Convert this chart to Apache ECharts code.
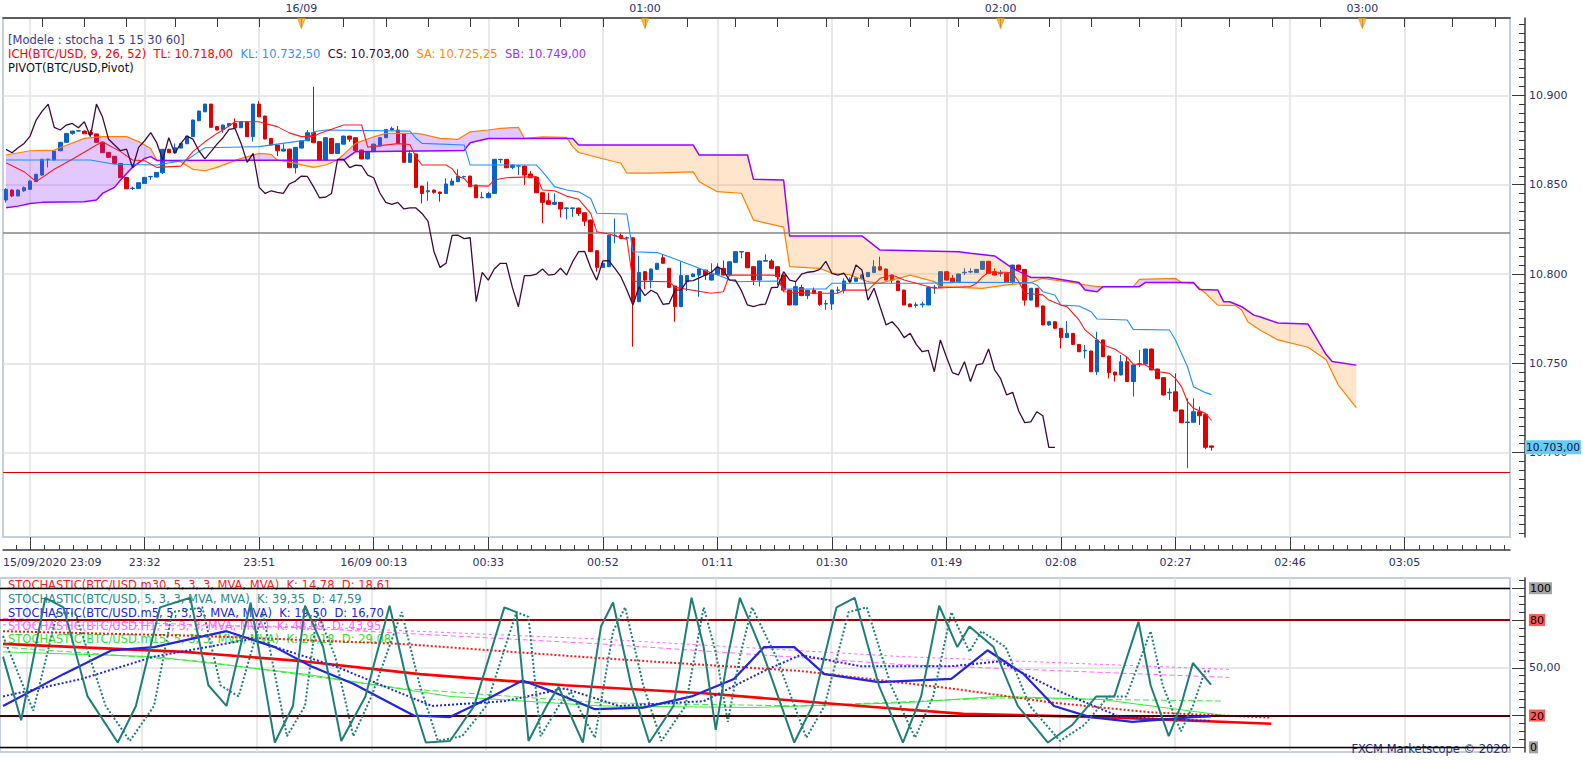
<!DOCTYPE html>
<html><head><meta charset="utf-8">
<script src="https://cdn.jsdelivr.net/npm/echarts@6/dist/echarts.min.js"></script>
<style>html,body{margin:0;padding:0;background:#fff}#c{width:1583px;height:760px}</style>
</head><body><div id="c"></div>
<script>
// ---------------- DATA ----------------
const NBARS = 250;
const categories = Array.from({length: NBARS}, (_, k) => String(k));
const bottomLabelIdx = [4,23,42,61,80,99,118,137,156,175,194,213,232];
const bottomLabels = ['15/09/2020 23:09','23:32','23:51','16/09 00:13','00:33','00:52','01:11','01:30','01:49','02:08','02:27','02:46','03:05'];
const BAR_STEP = 19;
const topLabelIdx = [49,106,165,225];
const topLabels = ['16/09','01:00','02:00','03:00'];
const topTickIdx = [6,13,20,28,35,42,49,56,63,70,77,85,92,99,106,113,121,128,136,143,150,158,165,173,180,188,195,203,210,218,225,232,240,247];
const priceTicks = [10700,10750,10800,10850,10900];
const stochTicks = [0,20,50,80,100];

const open = [
10841.4,10847.0,10843.7,10846.6,10847.4,10851.7,10855.4,10864.0,10863.8,10869.0,
10873.7,10878.7,10880.0,10880.0,10879.3,10878.4,10873.7,10868.1,10865.9,10861.9,
10854.1,10847.9,10847.9,10850.7,10854.4,10854.3,10856.7,10869.8,10867.9,10870.5,
10872.9,10876.9,10885.8,10890.8,10895.1,10882.5,10880.9,10883.0,10884.3,10881.9,
10885.2,10876.9,10895.1,10888.4,10875.9,10872.2,10868.8,10869.9,10859.5,10870.5,
10874.6,10879.1,10874.1,10863.8,10875.9,10867.5,10872.7,10877.2,10876.3,10869.4,
10864.4,10868.5,10871.6,10876.3,10880.6,10880.6,10878.7,10862.5,10867.2,10849.2,
10846.0,10847.0,10845.9,10845.1,10849.8,10851.7,10854.4,10854.8,10849.8,10842.7,
10842.7,10845.1,10864.0,10864.2,10859.7,10860.4,10860.4,10856.0,10854.1,10845.5,
10841.0,10839.0,10840.1,10836.7,10836.7,10836.9,10834.3,10830.2,10813.0,10803.7,
10804.1,10821.4,10821.6,10820.1,10820.3,10784.5,10801.3,10796.6,10802.6,10809.1,
10803.2,10793.3,10781.7,10795.7,10798.5,10799.4,10802.2,10796.6,10799.8,10803.2,
10799.4,10806.5,10812.3,10812.1,10804.1,10796.6,10807.2,10807.3,10804.1,10799.4,
10791.0,10782.7,10792.4,10787.9,10790.9,10790.1,10783.2,10783.2,10790.8,10790.9,
10796.0,10795.9,10797.6,10798.5,10800.9,10804.1,10802.8,10799.4,10796.1,10791.0,
10783.2,10782.4,10782.8,10782.7,10792.3,10792.4,10801.3,10797.6,10795.7,10800.7,
10801.1,10800.8,10802.6,10807.1,10801.3,10800.2,10800.4,10795.3,10805.0,10802.6,
10785.4,10792.0,10782.1,10771.5,10773.3,10769.6,10764.4,10766.8,10760.6,10757.0,
10756.9,10745.3,10763.1,10754.1,10745.1,10743.5,10750.9,10739.8,10749.5,10749.6,
10758.0,10746.8,10742.0,10733.5,10734.1,10723.9,10716.9,10717.0,10722.9,10721.4,
10703.8];
const close = [
10847.4,10843.7,10847.0,10848.3,10852.0,10855.8,10864.2,10864.3,10868.8,10873.7,
10878.7,10880.0,10880.2,10878.5,10878.2,10873.7,10867.9,10865.3,10861.9,10853.9,
10847.7,10848.1,10851.1,10854.1,10854.6,10856.9,10869.8,10867.9,10870.7,10873.1,
10877.2,10886.2,10891.2,10895.1,10882.1,10880.6,10883.4,10884.3,10881.9,10885.2,
10876.9,10895.1,10888.0,10875.6,10872.2,10869.0,10869.9,10859.5,10870.9,10874.6,
10879.1,10873.5,10863.8,10876.3,10867.5,10873.1,10877.2,10875.5,10869.0,10864.4,
10868.5,10872.7,10876.3,10880.9,10881.5,10873.1,10862.5,10867.5,10848.5,10845.1,
10846.6,10845.7,10845.1,10850.4,10852.0,10854.8,10854.6,10848.9,10842.7,10843.0,
10845.1,10864.2,10864.2,10859.5,10861.0,10860.6,10855.4,10853.9,10845.5,10840.1,
10839.0,10840.1,10836.4,10837.0,10837.0,10833.9,10829.6,10812.5,10803.7,10806.0,
10821.6,10821.7,10819.8,10820.3,10784.5,10800.9,10796.6,10802.8,10806.0,10806.0,
10792.5,10781.7,10799.1,10799.1,10800.0,10802.8,10799.4,10799.8,10803.2,10799.4,
10806.9,10812.5,10812.6,10803.5,10796.6,10807.3,10807.5,10803.2,10798.5,10791.0,
10782.7,10792.9,10787.9,10790.9,10789.2,10783.0,10783.5,10791.0,10791.1,10796.1,
10796.3,10797.8,10799.4,10800.9,10804.1,10802.2,10796.6,10796.6,10790.7,10782.7,
10781.7,10782.8,10783.2,10792.4,10792.6,10801.3,10796.6,10795.7,10800.0,10801.0,
10801.4,10802.6,10807.1,10800.4,10799.4,10800.5,10795.3,10805.0,10802.2,10785.4,
10792.0,10781.7,10771.5,10773.3,10769.6,10764.4,10766.8,10760.6,10756.5,10757.3,
10745.3,10763.1,10753.7,10744.8,10743.5,10750.9,10739.8,10749.1,10749.8,10758.0,
10746.3,10741.4,10732.3,10733.8,10723.3,10716.8,10717.2,10722.9,10720.7,10703.0,
10703.0];
const low = [
10840,10843,10843.5,10846,10847,10851.5,10855,10859.7,10863.5,10868.8,
10873.5,10878,10879.8,10878.3,10878,10873.5,10867.7,10865,10861.7,10853.7,
10847.5,10847.0,10847.7,10850.5,10852.6,10854.1,10856,10867.7,10867.7,10870.3,
10872.7,10876.7,10885.6,10890.6,10881.9,10880.4,10879.1,10882.8,10881.7,10881.7,
10876.7,10874.1,10887.8,10875.4,10872,10866.0,10868.6,10859.3,10856.3,10870.3,
10874.4,10873.3,10863.6,10863.6,10867.3,10867.3,10872.5,10874,10868.8,10864.2,
10864.2,10868.3,10871.4,10876.1,10880.4,10872.9,10862.3,10862.3,10848.3,10839.5,
10841.0,10845.0,10840.5,10844.9,10849.6,10851.5,10853.8,10848.7,10842.5,10842.5,
10842.5,10844.9,10862.0,10859.3,10858.6,10855.4,10849.8,10853.7,10845.3,10828.4,
10838.8,10838.8,10831.7,10830.6,10832.0,10832.5,10826.9,10812.3,10801.3,10803.5,
10803.9,10817.2,10819.6,10819.5,10759.3,10784.3,10791.6,10792.0,10802.4,10805.8,
10792.3,10773.3,10781.5,10790.5,10798.3,10787.3,10796.6,10796.4,10799.6,10799.2,
10799.2,10806.3,10808.8,10803.3,10793.8,10793.0,10807.0,10803.0,10793.8,10790.8,
10782.5,10782.5,10787.7,10786.0,10789.0,10782.2,10779.9,10779.9,10789.2,10789.2,
10795.3,10795.7,10797.4,10798.3,10800.7,10802.0,10796.4,10794.8,10790.5,10782.5,
10781.5,10781.2,10781.2,10782.5,10789.0,10792.2,10796.4,10795.5,10795.5,10799.4,
10800.4,10800.6,10802.4,10800.2,10799.2,10798.5,10795.1,10793.8,10802.0,10782.3,
10785.2,10781.5,10771.3,10771.0,10769.4,10758.4,10764.2,10760.4,10756.3,10752.8,
10745.1,10743.5,10753.5,10741.6,10739.8,10743.3,10739.6,10731.4,10748.0,10749.4,
10746.1,10741.2,10732.1,10729.5,10723.1,10716.6,10691.3,10716.8,10715.5,10702.0,
10701.1];
const high = [
10848,10847.5,10847.5,10849,10852.5,10856,10864.5,10864.5,10869,10874,
10879,10880.2,10880.4,10880.3,10880.6,10878.6,10874,10868.3,10866,10862,
10854.3,10848.9,10851.3,10854.3,10855.0,10857.1,10870,10870,10873.1,10873.3,
10877.4,10886.4,10891.4,10895.3,10895.3,10882.7,10883.6,10884.5,10887.1,10885.4,
10885.4,10895.3,10896.8,10888.6,10876.1,10872.4,10872.7,10870.1,10871.1,10874.8,
10880.6,10904.8,10874.3,10876.5,10876.1,10873.3,10877.4,10877.4,10876.5,10869.6,
10868.7,10872.9,10876.5,10881.1,10882.5,10882.8,10878.9,10869.4,10867.4,10849.4,
10851.7,10847.3,10846.1,10853.5,10853.5,10858.6,10855.0,10855.0,10850.0,10846.0,
10846.0,10864.4,10864.5,10864.4,10861.2,10860.8,10860.6,10857.6,10854.3,10845.7,
10845.5,10845.1,10840.3,10837.2,10837.2,10837.1,10834.5,10830.4,10813.2,10806.2,
10822.0,10831.1,10823.1,10821.0,10820.5,10810.3,10801.5,10803.0,10806.2,10811.0,
10803.4,10793.5,10806.9,10799.3,10800.5,10803.0,10802.4,10806.0,10806.0,10807.5,
10807.1,10812.7,10812.8,10812.3,10804.3,10807.5,10811.0,10808.4,10804.3,10799.6,
10791.2,10796.0,10794.0,10791.1,10792.4,10790.3,10785.5,10791.2,10792.9,10797.6,
10798.1,10798.0,10800.0,10801.1,10807.8,10809.7,10803.0,10799.6,10796.3,10791.2,
10783.4,10784.1,10784.5,10792.6,10793.8,10801.5,10801.5,10799.4,10800.2,10803.2,
10803.2,10802.8,10807.3,10807.3,10803.2,10802.2,10800.6,10805.2,10805.2,10802.8,
10792.2,10792.2,10782.3,10773.8,10773.5,10769.8,10773.7,10767.0,10760.8,10760.2,
10757.1,10767.7,10763.3,10754.3,10745.3,10754.7,10753.7,10749.3,10757.5,10758.2,
10758.2,10747.0,10742.2,10736.0,10744.4,10724.1,10730.4,10730.4,10725.8,10721.6,
10704.0];

// Ichimoku lines: [bar index, value]
const tenkan = [[0,10862.3],[3,10857.3],[5,10851.7],[8,10858.6],[11,10864.2],[15,10872.2],[16,10874],[19,10868.5],[21,10863.8],[23,10863.4],[25,10859.7],[29,10860.4],[31,10868.5],[33,10874],[35,10878.7],[36,10880.6],[38,10885.2],[42,10885.2],[43,10884.3],[45,10882.5],[47,10879],[49,10876.9],[51,10876.9],[52,10878.7],[54,10881],[56,10883.4],[59,10883.4],[60,10871],[65,10873],[67,10872.5],[68,10865.5],[69,10861],[73,10861],[74,10859],[75,10854.5],[76,10853.5],[77,10849.5],[80,10849.2],[81,10852.6],[83,10853.9],[88,10854.5],[89,10847],[91,10846.6],[93,10843.6],[95,10841.8],[97,10833.9],[98,10823.7],[100,10822.4],[103,10819.4],[104,10796],[110,10795.7],[111,10792.5],[117,10789.2],[119,10790.1],[120,10799.4],[127,10799.4],[128,10799],[129,10790.1],[134,10789.2],[138,10789.2],[139,10791],[143,10791],[145,10797.6],[147,10799.4],[149,10796.6],[151,10794.8],[154,10792],[160,10793],[161,10794.8],[162,10798.5],[163,10801],[166,10801],[167,10800.4],[168,10795.7],[169,10789.2],[172,10788.3],[173,10785.4],[175,10782.6],[176,10781.7],[178,10774.3],[179,10768.7],[181,10763.1],[182,10760.3],[184,10757.9],[185,10755.6],[186,10753.4],[187,10749.6],[189,10749.1],[190,10747.2],[191,10745.4],[193,10744.4],[194,10741.6],[195,10737],[196,10728.6],[197,10724.8],[199,10722],[200,10718]];
const kijun = [[0,10863.8],[14,10863.8],[18,10861.4],[25,10861],[30,10863.8],[32,10868.5],[33,10870.7],[42,10871.3],[48,10874.1],[50,10875],[51,10879.6],[53,10880.6],[67,10880.0],[68,10876],[69,10873.1],[76,10872.2],[77,10861],[88,10861],[89,10857.3],[91,10848.9],[93,10847],[95,10846],[97,10842.3],[98,10834],[103,10833.6],[104,10812.5],[108,10812],[110,10809.7],[115,10803.2],[118,10799.4],[121,10795.7],[128,10796.1],[129,10791.6],[136,10791.6],[137,10794.8],[152,10794.8],[158,10795.3],[170,10795.2],[171,10793.9],[172,10790.1],[174,10788.3],[175,10782.6],[178,10782.1],[180,10778.9],[181,10774.8],[186,10774.3],[187,10769],[193,10768.7],[194,10763.1],[196,10748.1],[197,10736.9],[199,10733.6],[200,10732.5]];
const senkouA = [[0,10866.6],[4,10869],[8,10869.4],[13,10875.9],[16,10876.9],[20,10876.9],[22,10874.1],[24,10870.3],[25,10863.8],[29,10862.9],[31,10858.6],[33,10857.8],[35,10859.7],[39,10864.7],[42,10867.5],[44,10867],[45,10863.8],[48,10861.9],[51,10859.7],[53,10861],[55,10863.8],[58,10873.1],[61,10876.8],[63,10878.7],[68,10878.7],[69,10878.3],[72,10875.9],[75,10875.4],[77,10879.6],[80,10880.6],[82,10881.5],[85,10882.1],[86,10876],[89,10876.8],[93,10876.5],[94,10871.3],[95,10868],[99,10864.5],[102,10862],[103,10856.5],[107,10856.5],[114,10857.2],[115,10851.7],[118,10846.1],[122,10845.2],[124,10830.2],[129,10826.2],[130,10804.1],[135,10803.2],[137,10800.5],[140,10799.6],[143,10795.7],[145,10794.8],[150,10799.4],[154,10795.7],[155,10792.9],[162,10792],[166,10793.9],[170,10795.2],[172,10797.6],[174,10796.6],[177,10795.2],[179,10793.9],[181,10792.9],[187,10792.9],[188,10797],[194,10797.6],[195,10795.2],[197,10794.8],[199,10789.2],[201,10782.6],[204,10782.3],[205,10779.9],[206,10773.3],[208,10768.7],[211,10763.1],[216,10759],[219,10752],[221,10738],[224,10725.25]];
const senkouB = [[0,10837.1],[2,10838],[4,10839.5],[6,10840.1],[13,10840.5],[15,10841.4],[16,10845.1],[18,10848.5],[19,10852.6],[21,10859.7],[23,10864.7],[24,10865.7],[25,10863.6],[56,10863.8],[58,10868.5],[76,10869.2],[77,10873.5],[80,10875.8],[94,10875.8],[95,10872.2],[114,10872.2],[115,10866.6],[123,10866.6],[124,10853],[129,10852.6],[130,10821.3],[142,10821.3],[145,10813.4],[158,10812.5],[160,10811.6],[164,10810.1],[167,10803.2],[170,10798.1],[173,10798],[178,10795.2],[179,10791.1],[181,10790.1],[182,10792.9],[188,10792.9],[189,10795.2],[197,10795.2],[198,10791.4],[201,10791.1],[202,10784.5],[203,10784.5],[205,10781.7],[207,10777],[208,10776.1],[211,10772.6],[216,10772],[219,10754.9],[220,10751],[224,10749]];
const CHIKOU_SHIFT = 26;
const pivotLevel = 10823;
const supportLevel = 10689;

// Stochastics: [bar index, value]
const stochM30K = [[0,65],[30,60],[50,54],[69,46],[93,39],[116,34],[142,26],[159,21],[182,19],[210,14.78]];
const stochM30D = [[0,73],[33,70],[66,65],[99,56],[132,48],[157,37],[174,28],[190,22],[210,18.61]];
const stochH1K = [[0,77],[50,76],[99,68],[149,57],[203,48.99]];
const stochH1D = [[0,81],[50,75],[99,65],[149,52],[203,43.95]];
const stochM15K = [[0,60],[25,57],[50,46],[74,32],[99,26],[124,25],[149,28],[165,32],[182,30],[202,20.18]];
const stochM15D = [[0,63],[33,54],[66,37],[99,28],[132,26],[165,31],[202,29.08]];
const stochM5K = [[0,26],[10,46],[18,61],[25,63],[37,73],[45,63],[51,51],[58,40],[68,20],[74,19],[81,32],[86,42],[91,35],[98,24],[106,25],[114,32],[121,43],[126,63],[131,63],[136,46],[145,41],[157,43],[163,61],[169,46],[174,26],[180,19],[187,16],[197,19],[200,19.5]];
const stochM5D = [[0,32],[13,43],[25,57],[41,68],[55,51],[71,26],[83,29],[93,37],[102,26],[116,29],[126,48],[132,58],[142,51],[157,51],[165,54],[175,35],[185,19],[197,17],[200,16.7]];
const stochK = [[0,57],[3,17],[7,94],[10,88],[14,32],[19,3],[22,26],[26,88],[31,94],[34,39],[37,26],[41,91],[45,3],[48,26],[50,89],[53,63],[56,4],[60,32],[64,89],[67,39],[70,3],[74,4],[78,26],[83,88],[85,85],[87,4],[90,26],[92,38],[94,20],[96,3],[99,76],[101,91],[104,39],[107,3],[111,26],[114,94],[116,63],[118,11],[120,57],[122,94],[126,57],[131,3],[134,26],[138,88],[141,94],[145,39],[149,3],[152,32],[155,89],[158,63],[160,76],[164,63],[168,26],[173,3],[177,14],[181,32],[184,32],[188,79],[190,39],[193,7],[195,26],[197,53],[200,39.35]];
const stochD = [[0,70],[5,23],[9,85],[12,84],[17,26],[21,4],[25,26],[28,85],[33,88],[36,39],[39,32],[43,85],[47,7],[50,26],[52,85],[55,57],[58,7],[61,32],[66,85],[69,39],[72,4],[76,7],[80,26],[85,85],[87,82],[89,7],[92,26],[94,35],[96,20],[98,6],[101,73],[103,88],[106,39],[109,4],[113,26],[116,88],[118,60],[120,16],[122,57],[124,88],[128,57],[133,6],[136,26],[140,85],[143,88],[147,39],[151,6],[154,32],[157,85],[160,60],[162,73],[166,63],[170,26],[175,4],[179,14],[183,32],[186,32],[190,73],[192,39],[195,10],[197,26],[199,48],[200,47.59]];

// ---------------- CHART ----------------
const PMIN = 10652.8, PMAX = 10943.3;
const SMIN = -2.94, SMAX = 106.44;
const XMIN = -0.5, XMAX = NBARS - 0.5;
const FONT = 'DejaVu Sans';
const AXIS_TXT = '#30306a';
const AXIS_COL = '#3a3a3a';
const CLOUD_UP = 'rgba(153,51,255,0.27)';
const CLOUD_DOWN = 'rgba(255,135,20,0.22)';

const fmtThousands = v => { const s = Math.round(v).toString(); return s.slice(0, -3) + '.' + s.slice(-3); };
const fmtPrice2 = v => { const p = v.toFixed(2).split('.'); return p[0].slice(0, -3) + '.' + p[0].slice(-3) + ',' + p[1]; };

const bottomMinor = [];
for (let m = -1; m < bottomLabelIdx.length; m++) {
  for (let k = 1; k < 8; k++) {
    const v = bottomLabelIdx[0] + BAR_STEP * m + k * BAR_STEP / 8;
    if (v > XMIN && v < XMAX) bottomMinor.push(v);
  }
}
const bottomLabelPos = bottomLabelIdx.map((v, k) => k === 0 ? XMIN : v);
const bottomLabelMap = new Map(bottomLabelPos.map((v, k) => [v, bottomLabels[k]]));
const priceMinor = [];
for (let v = 10655; v < PMAX; v += 5) if (v % 50) priceMinor.push(v);
const stochMinor = [];
for (let v = 5; v < SMAX; v += 5) if (!stochTicks.includes(v)) stochMinor.push(v);
const topLabelMap = new Map(topLabelIdx.map((v, k) => [v, topLabels[k]]));

const lastClose = close[close.length - 1];
const chikou = close.slice(CHIKOU_SHIFT);

function renderCloud(params, api) {
  const A = senkouA.map(p => api.coord(p));
  const B = senkouB.map(p => api.coord(p));
  const at = (P, x) => {
    if (x <= P[0][0]) return P[0][1];
    for (let k = 0; k < P.length - 1; k++) {
      const p0 = P[k], p1 = P[k + 1];
      if (x <= p1[0]) { const dx = p1[0] - p0[0]; return dx ? p0[1] + (x - p0[0]) / dx * (p1[1] - p0[1]) : p1[1]; }
    }
    return P[P.length - 1][1];
  };
  const lo = Math.max(A[0][0], B[0][0]), hi = Math.min(A[A.length - 1][0], B[B.length - 1][0]);
  const xs = [...new Set(A.concat(B).map(p => p[0]))].filter(x => x >= lo && x <= hi).sort((a, b) => a - b);
  const polys = [];
  let cur = null, prev = null;
  const flush = () => {
    if (cur && cur.a.length > 1) polys.push({type: 'polygon', shape: {points: cur.a.concat(cur.b.slice().reverse())}, style: {fill: cur.s < 0 ? CLOUD_UP : CLOUD_DOWN}});
  };
  xs.forEach(x => {
    const ya = at(A, x), yb = at(B, x), d = ya - yb;
    if (prev && prev.d * d < 0) {
      const t = prev.d / (prev.d - d);
      const xm = prev.x + t * (x - prev.x), ym = prev.ya + t * (ya - prev.ya);
      cur.a.push([xm, ym]); cur.b.push([xm, ym]); flush();
      cur = {s: Math.sign(d), a: [[xm, ym]], b: [[xm, ym]]};
    }
    if (!cur) cur = {s: 0, a: [], b: []};
    if (!cur.s && d) cur.s = Math.sign(d);
    cur.a.push([x, ya]); cur.b.push([x, yb]);
    prev = {x, ya, d: d || (prev ? prev.d : 0)};
  });
  flush();
  return {type: 'group', children: polys};
}

const line = (data, color, width, type, xi, yi, z) => ({
  type: 'line', data, xAxisIndex: xi, yAxisIndex: yi, symbol: 'none', showSymbol: false,
  lineStyle: {color, width, type}, z, silent: true, animation: false
});

const chart = echarts.init(document.getElementById('c'), null, {renderer: 'svg'});
const labelBase = {color: AXIS_TXT, fontFamily: FONT, fontSize: 11};
const xValueAxis = (extra) => Object.assign({type: 'value', min: XMIN, max: XMAX, axisLine: {show: false, onZero: false}, axisLabel: {show: false}, splitLine: {show: false}}, extra);

chart.setOption({
  animation: false,
  backgroundColor: '#ffffff',
  grid: [
    {left: -3, right: 73, top: 18, bottom: 223, show: true, borderColor: '#c6cedb', borderWidth: 2, backgroundColor: 'transparent'},
    {left: -3, right: 73, top: 578, bottom: 8, show: true, borderColor: '#c6cedb', borderWidth: 2, backgroundColor: 'transparent'}
  ],
  xAxis: [
    // 0: data axis of the price panel (hidden)
    {type: 'category', gridIndex: 0, data: categories, boundaryGap: true, show: false},
    // 1: top time axis
    xValueAxis({gridIndex: 0, position: 'top',
      axisLine: {show: true, onZero: false, lineStyle: {color: AXIS_COL, width: 1.5}},
      axisTick: {show: true, customValues: topTickIdx, inside: true, length: 9, lineStyle: {color: AXIS_COL}},
      axisLabel: Object.assign({show: true, customValues: topLabelIdx, formatter: v => topLabelMap.get(v) || '', margin: 4}, labelBase)}),
    // 2: bottom time axis (major ticks, labels, vertical grid)
    xValueAxis({gridIndex: 0, position: 'bottom', offset: 13,
      axisLine: {show: true, onZero: false, lineStyle: {color: AXIS_COL, width: 1.5}},
      axisTick: {show: true, customValues: bottomLabelIdx, inside: true, length: 13, lineStyle: {color: AXIS_COL}},
      axisLabel: Object.assign({show: true, customValues: bottomLabelPos, alignMinLabel: 'left', formatter: v => bottomLabelMap.get(v) || '', margin: 7}, labelBase),
      splitLine: {show: true, lineStyle: {color: '#e2e2e2', width: 1.5}}}),
    // 3: bottom minor ticks
    xValueAxis({gridIndex: 0, position: 'bottom', offset: 13,
      axisTick: {show: true, customValues: bottomMinor, inside: true, length: 5, lineStyle: {color: AXIS_COL}}}),
    // 4: data axis of the stochastic panel (hidden)
    {type: 'category', gridIndex: 1, data: categories, boundaryGap: true, show: false},
    // 5: vertical grid of the stochastic panel
    xValueAxis({gridIndex: 1, position: 'bottom',
      axisTick: {show: false, customValues: bottomLabelIdx},
      splitLine: {show: true, lineStyle: {color: '#e2e2e2', width: 1.5}}})
  ],
  yAxis: [
    {type: 'value', gridIndex: 0, position: 'right', offset: 15, min: PMIN, max: PMAX,
     axisLine: {show: true, onZero: false, lineStyle: {color: AXIS_COL, width: 1.5}},
     axisTick: {show: true, customValues: priceTicks, inside: true, length: 13, lineStyle: {color: AXIS_COL}},
     axisLabel: Object.assign({customValues: priceTicks, formatter: fmtThousands, margin: 4}, labelBase),
     splitLine: {show: true, lineStyle: {color: '#e2e2e2', width: 1.5}}},
    {type: 'value', gridIndex: 0, position: 'right', offset: 15, min: PMIN, max: PMAX,
     axisLine: {show: false, onZero: false},
     axisTick: {show: true, customValues: priceMinor, inside: true, length: 6, lineStyle: {color: AXIS_COL}},
     axisLabel: {show: false}, splitLine: {show: false}},
    {type: 'value', gridIndex: 1, position: 'right', offset: 15, min: SMIN, max: SMAX,
     axisLine: {show: true, onZero: false, lineStyle: {color: AXIS_COL, width: 1.5}},
     axisTick: {show: true, customValues: stochTicks, inside: true, length: 13, lineStyle: {color: AXIS_COL}},
     axisLabel: Object.assign({customValues: stochTicks, margin: 4,
       formatter: v => (v === 0 || v === 100) ? `{g|${v}}` : (v === 20 || v === 80) ? `{r|${v}}` : '50,00',
       rich: {g: {backgroundColor: '#a4a4a4', color: '#000', padding: [1, 1, 0, 1], fontFamily: FONT, fontSize: 11},
              r: {backgroundColor: '#ff5a5a', color: '#000', padding: [1, 1, 0, 1], fontFamily: FONT, fontSize: 11}}}, labelBase),
     splitLine: {show: true, lineStyle: {color: '#e2e2e2', width: 1.5}}},
    {type: 'value', gridIndex: 1, position: 'right', offset: 15, min: SMIN, max: SMAX,
     axisLine: {show: false, onZero: false},
     axisTick: {show: true, customValues: stochMinor, inside: true, length: 6, lineStyle: {color: AXIS_COL}},
     axisLabel: {show: false}, splitLine: {show: false}}
  ],
  graphic: [
    {type: 'text', x: 8, y: 40, z: 1, silent: true, style: {text: '[Modele : stocha 1 5 15 30 60]', fill: '#3b3b8f', fontFamily: FONT, fontSize: 11.5, verticalAlign: 'middle'}},
    {type: 'text', x: 8, y: 54, z: 1, silent: true, style: {
      text: '{r|ICH(BTC/USD, 9, 26, 52)  TL: 10.718,00}  {k|KL: 10.732,50}  {c|CS: 10.703,00}  {a|SA: 10.725,25}  {b|SB: 10.749,00}',
      fontFamily: FONT, fontSize: 11.5, verticalAlign: 'middle',
      rich: {r: {fill: '#ff0000', fontFamily: FONT, fontSize: 11.5}, k: {fill: '#3d8ff5', fontFamily: FONT, fontSize: 11.5}, c: {fill: '#3a0838', fontFamily: FONT, fontSize: 11.5}, a: {fill: '#ff8a00', fontFamily: FONT, fontSize: 11.5}, b: {fill: '#9b30ff', fontFamily: FONT, fontSize: 11.5}}}},
    {type: 'text', x: 8, y: 67.5, z: 1, silent: true, style: {text: 'PIVOT(BTC/USD,Pivot)', fill: '#111111', fontFamily: FONT, fontSize: 11.5, verticalAlign: 'middle'}},
    {type: 'text', x: 8, y: 585, z: 1, silent: true, style: {text: 'STOCHASTIC(BTC/USD.m30, 5, 3, 3, MVA, MVA)  K: 14,78  D: 18,61', fill: '#ff1a1a', fontFamily: FONT, fontSize: 11.5, verticalAlign: 'middle'}},
    {type: 'text', x: 8, y: 599, z: 1, silent: true, style: {text: 'STOCHASTIC(BTC/USD, 5, 3, 3, MVA, MVA)  K: 39,35  D: 47,59', fill: '#2a8c86', fontFamily: FONT, fontSize: 11.5, verticalAlign: 'middle'}},
    {type: 'text', x: 8, y: 612.5, z: 1, silent: true, style: {text: 'STOCHASTIC(BTC/USD.m5, 5, 3, 3, MVA, MVA)  K: 19,50  D: 16,70', fill: '#2323e0', fontFamily: FONT, fontSize: 11.5, verticalAlign: 'middle'}},
    {type: 'text', x: 8, y: 626, z: 1, silent: true, style: {text: 'STOCHASTIC(BTC/USD.H1, 5, 3, 3, MVA, MVA)  K: 48,99  D: 43,95', fill: '#ff66ff', fontFamily: FONT, fontSize: 11.5, verticalAlign: 'middle'}},
    {type: 'text', x: 8, y: 639, z: 1, silent: true, style: {text: 'STOCHASTIC(BTC/USD.m15, 5, 3, 3, MVA, MVA)  K: 20,18  D: 29,08', fill: '#33dd33', fontFamily: FONT, fontSize: 11.5, verticalAlign: 'middle'}},
    {type: 'text', x: 1508, y: 749, z: 5, silent: true, style: {text: 'FXCM Marketscope © 2020', fill: '#30306a', fontFamily: FONT, fontSize: 11.5, align: 'right', verticalAlign: 'middle'}}
  ],
  series: [
    {type: 'candlestick', name: 'BTC/USD', xAxisIndex: 0, yAxisIndex: 0,
     data: open.map((o, k) => [o, close[k], low[k], high[k]]),
     barWidth: 4, z: 2, silent: true, animation: false,
     itemStyle: {color: '#0a62c8', color0: '#e00000', borderColor: '#0a62c8', borderColor0: '#e00000', borderWidth: 1},
     markLine: {silent: true, symbol: 'none', animation: false, precision: 2,
       data: [
         {yAxis: pivotLevel, lineStyle: {color: '#858585', width: 1.5, type: 'solid'}, label: {show: false}},
         {yAxis: supportLevel, lineStyle: {color: '#e00000', width: 1, type: 'solid'}, label: {show: false}},
         {yAxis: lastClose, lineStyle: {color: 'rgba(0,0,0,0)', width: 1, type: 'solid'},
          label: {show: true, position: 'end', distance: 15, formatter: () => fmtPrice2(lastClose),
                  backgroundColor: '#66ccf5', color: '#101040', padding: [2, 1, 1, 1], fontFamily: FONT, fontSize: 10.6, opacity: 1}}
       ]}},
    {type: 'custom', name: 'cloud', xAxisIndex: 0, yAxisIndex: 0, renderItem: renderCloud,
     data: [[senkouA[0][0], senkouA[0][1]]], z: 3, silent: true, animation: false, clip: true},
    line(senkouA, '#ff8000', 1.2, 'solid', 0, 0, 4),
    line(senkouB, '#9900ff', 1.5, 'solid', 0, 0, 4),
    line(kijun, '#1e8fff', 1.1, 'solid', 0, 0, 5),
    line(tenkan, '#ff1a1a', 1.1, 'solid', 0, 0, 5),
    line(chikou, '#3d0a3d', 1.3, 'solid', 0, 0, 5),
    {type: 'scatter', xAxisIndex: 0, yAxisIndex: 0, data: topLabelIdx.map(i => [i, PMAX]),
     symbol: 'triangle', symbolRotate: 180, symbolSize: [8, 11], symbolOffset: [0, 5.5],
     itemStyle: {color: '#f6a623', borderColor: '#c77800', borderWidth: 0.5}, z: 10, clip: false, silent: true, animation: false},

    line(stochM15D, '#44e044', 1, [6, 3], 4, 2, 3),
    line(stochM15K, '#33ee33', 1, 'solid', 4, 2, 3),
    line(stochH1D, '#ff66ff', 1, [5, 3], 4, 2, 3),
    line(stochH1K, '#ff66ff', 1, [3, 3], 4, 2, 3),
    line(stochM30D, '#ff1a1a', 2, [2, 2], 4, 2, 4),
    line(stochM30K, '#ff0000', 2.6, 'solid', 4, 2, 4),
    line(stochM5D, '#2323e0', 2, [2, 2], 4, 2, 5),
    line(stochM5K, '#2323e0', 2.2, 'solid', 4, 2, 5),
    line(stochD, '#1f7f77', 2, [2, 2], 4, 2, 6),
    Object.assign(line(stochK, '#1f7f77', 2, 'solid', 4, 2, 6), {
      markLine: {silent: true, symbol: 'none', animation: false, label: {show: false},
        data: [
          {yAxis: 100, lineStyle: {color: '#000000', width: 1.3, type: 'solid'}},
          {yAxis: 80, lineStyle: {color: '#a00000', width: 2, type: 'solid'}},
          {yAxis: 20, lineStyle: {color: '#500000', width: 2, type: 'solid'}},
          {yAxis: 0, lineStyle: {color: '#000000', width: 1.3, type: 'solid'}}
        ]}})
  ]
});
</script></body></html>
